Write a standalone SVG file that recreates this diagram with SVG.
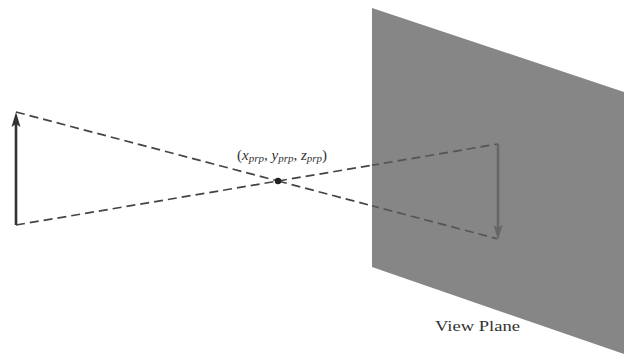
<svg xmlns="http://www.w3.org/2000/svg" width="624" height="356" viewBox="0 0 624 356">
<style>
text{font-family:"Liberation Serif","Times New Roman",serif;fill:#333}
.dash{fill:none;stroke-width:1.7;stroke-dasharray:9 5}
.i{font-style:italic}
</style>
<rect width="624" height="356" fill="#fff"/>
<g id="view-plane">
<polygon points="372,8 624,92 624,354 372,267" fill="#868686"/>
<text x="435" y="331" font-size="15" textLength="85" lengthAdjust="spacingAndGlyphs">View Plane</text>
</g>
<g id="connectors">
<path class="dash" stroke="#444" d="M16,112 L278,181"/>
<path class="dash" stroke="#444" d="M16,225 L278,181"/>
<path class="dash" stroke="#444" d="M278,181 L372,205.800"/>
<path class="dash" stroke="#444" d="M278,181 L372,165.200"/>
<path class="dash" stroke="#555" stroke-dashoffset="2" d="M372,165.200 L498,144"/>
<path class="dash" stroke="#555" stroke-dashoffset="2" d="M372,205.800 L497,238.700"/>
</g>
<g id="object-arrow">
<line x1="16" y1="225" x2="16" y2="122" stroke="#333" stroke-width="2.6"/>
<polygon points="16,112 20.500,127 16,124 11.500,127" fill="#333"/>
</g>
<g id="projected-arrow">
<line x1="498" y1="144" x2="498" y2="230" stroke="#666" stroke-width="2.6"/>
<polygon points="498,240 493.500,225 498,228 502.500,225" fill="#666"/>
</g>
<g id="prp">
<circle cx="278" cy="181" r="3.200" fill="#222"/>
<text x="237" y="160" font-size="15">(<tspan class="i">x</tspan><tspan class="i" font-size="11" dy="2">prp</tspan><tspan dy="-2">, </tspan><tspan class="i">y</tspan><tspan class="i" font-size="11" dy="2">prp</tspan><tspan dy="-2">, </tspan><tspan class="i">z</tspan><tspan class="i" font-size="11" dy="2">prp</tspan><tspan dy="-2">)</tspan></text>
</g>
</svg>
